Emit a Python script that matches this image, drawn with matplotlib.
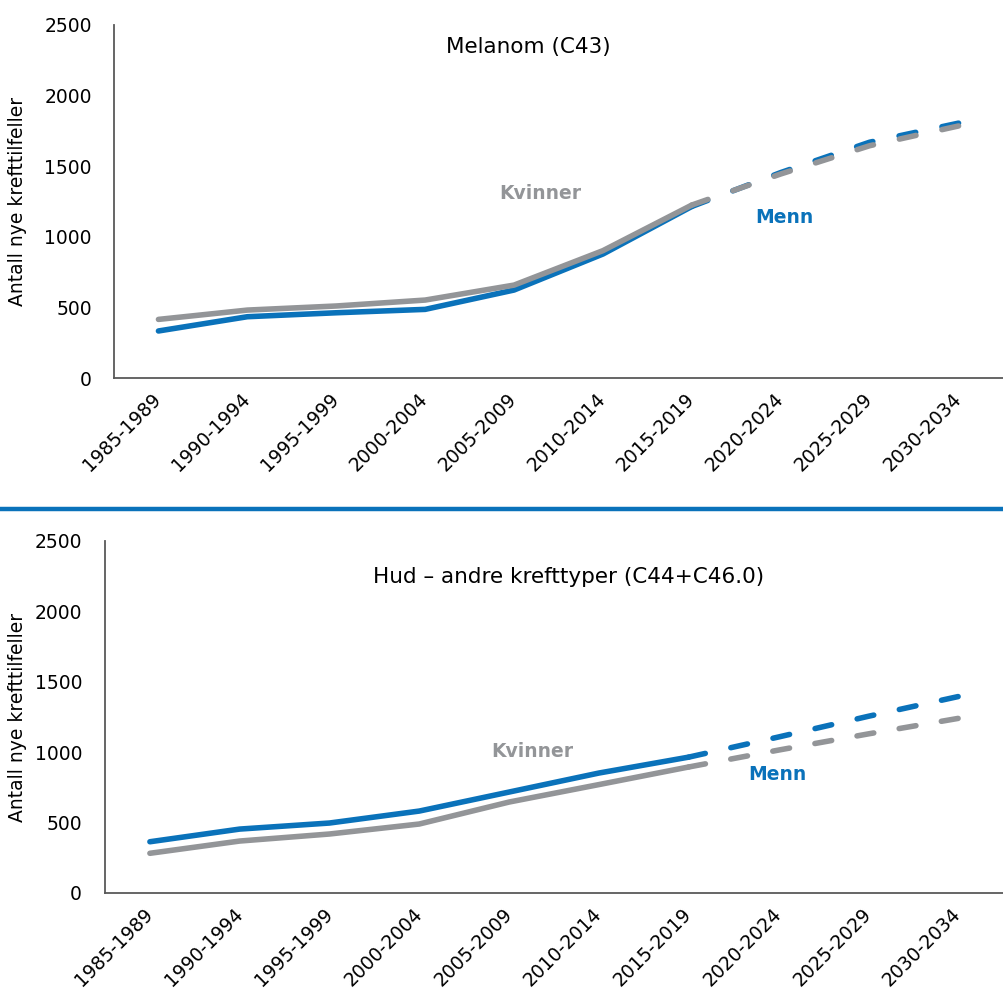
import matplotlib.pyplot as plt
import matplotlib.transforms as mtransforms
import numpy as np

periods = ['1985-1989', '1990-1994', '1995-1999', '2000-2004', '2005-2009',
           '2010-2014', '2015-2019', '2020-2024', '2025-2029', '2030-2034']
n_obs = 7  # 1985-1989 .. 2015-2019 observed, rest projected

# Melanom (C43)
mel_menn = [333, 434, 462, 486, 623, 878, 1215]
mel_kvinner = [415, 481, 510, 552, 658, 902, 1225]
mel_menn_proj = [1215, 1455, 1670, 1805]
mel_kvinner_proj = [1225, 1445, 1645, 1785]

# Hud - andre krefttyper (C44+C46.0)
hud_menn = [364, 454, 497, 582, 717, 852, 965]
hud_kvinner = [282, 369, 419, 490, 646, 770, 895]
hud_menn_proj = [965, 1108, 1255, 1395]
hud_kvinner_proj = [895, 1015, 1130, 1240]

BLUE = '#0a72ba'
GREY = '#939598'
AXC = '#595959'
LW = 4.0

plt.rcParams['font.family'] = ['DejaVu Sans']
plt.rcParams['lines.scale_dashes'] = False

fig = plt.figure(figsize=(10.04, 10.0), dpi=100)
ax1 = fig.add_axes([114/1004, 622/1000, 889/1004, 353/1000])
ax2 = fig.add_axes([105/1004, 107/1000, 898/1004, 352/1000])

x = np.arange(len(periods))
x_obs = x[:n_obs]
x_proj = x[n_obs-1:]


def dashed(ax, xs, ys, color):
    # stretch the dash period so the line starts and ends on a dash
    pts = ax.transData.transform(np.column_stack([xs, ys]))
    length = np.hypot(*np.diff(pts, axis=0).T).sum()
    on = 17.0
    n = max(1, int(round((length - on) / 42.0)))
    period = (length - on) / n
    px2pt = 72.0 / fig.dpi
    ax.plot(xs, ys, color=color, lw=LW, dashes=(on*px2pt, (period - on)*px2pt),
            dash_capstyle='round')


def draw(ax, menn, kvinner, menn_p, kvinner_p, ypad):
    ax.set_xlim(-0.5, len(periods) - 0.5)
    ax.set_ylim(0, 2500)
    ax.plot(x_obs, menn, color=BLUE, lw=LW, solid_capstyle='round', solid_joinstyle='round')
    dashed(ax, x_proj, menn_p, BLUE)
    ax.plot(x_obs, kvinner, color=GREY, lw=LW, solid_capstyle='round', solid_joinstyle='round')
    dashed(ax, x_proj, kvinner_p, GREY)

    ax.set_yticks([0, 500, 1000, 1500, 2000, 2500])
    ax.set_xticks(x)
    ax.set_xticklabels(periods, rotation=45, ha='right', va='center',
                       rotation_mode='anchor', fontsize=13.5)
    shift = mtransforms.ScaledTranslation(6/100, -4/100, fig.dpi_scale_trans)
    for lab in ax.get_xticklabels():
        lab.set_transform(lab.get_transform() + shift)
    ax.tick_params(axis='both', length=0, labelsize=13.5, colors='black')
    ax.tick_params(axis='y', pad=ypad)
    ax.tick_params(axis='x', pad=13)
    for s in ['top', 'right']:
        ax.spines[s].set_visible(False)
    for s in ['left', 'bottom']:
        ax.spines[s].set_color(AXC)
        ax.spines[s].set_linewidth(1.3)
    ax.set_ylabel('Antall nye krefttilfeller', fontsize=13.5, va='center')
    pos = ax.get_position()
    ax.yaxis.set_label_coords(-(pos.x0 - 18/1004) / pos.width, 0.5)


draw(ax1, mel_menn, mel_kvinner, mel_menn_proj, mel_kvinner_proj, 16)
draw(ax2, hud_menn, hud_kvinner, hud_menn_proj, hud_kvinner_proj, 16.5)

fig.text(528/1004, 1 - 47/1000, 'Melanom (C43)', fontsize=15.5, ha='center', va='center')
fig.text(569/1004, 1 - 577/1000, 'Hud – andre krefttyper (C44+C46.0)', fontsize=15.5,
         ha='center', va='center')

ax1.text(4.29, 1310, 'Kvinner', color=GREY, fontsize=13.5, fontweight='bold', ha='center', va='center')
ax1.text(7.04, 1140, 'Menn', color=BLUE, fontsize=13.5, fontweight='bold', ha='center', va='center')
ax2.text(4.26, 1008, 'Kvinner', color=GREY, fontsize=13.5, fontweight='bold', ha='center', va='center')
ax2.text(6.99, 845, 'Menn', color=BLUE, fontsize=13.5, fontweight='bold', ha='center', va='center')

# divider between the two charts
fig.add_artist(plt.Line2D([0, 1], [491/1000, 491/1000], color=BLUE, lw=3.2,
                          transform=fig.transFigure))

fig.savefig('out.png', dpi=100)
